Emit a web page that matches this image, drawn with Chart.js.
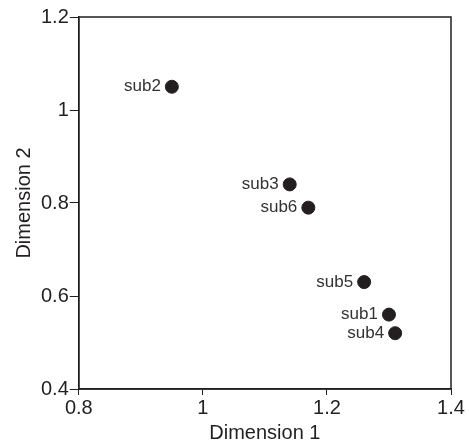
<!DOCTYPE html>
<html>
<head>
<meta charset="utf-8">
<script src="https://cdn.jsdelivr.net/npm/chart.js@4/dist/chart.umd.min.js"></script>
<style>
    html, body { margin: 0; padding: 0; background: #fff; }
    #wrap { width: 469px; height: 446px; }
</style>
</head>
<body>
<div id="wrap"><canvas id="chart-mds"></canvas></div>
<script>
// MDS coordinates of each subject
let subjects = ['sub1', 'sub2', 'sub3', 'sub4', 'sub5', 'sub6']
let dim1 = [1.30, 0.95, 1.14, 1.31, 1.26, 1.17]
let dim2 = [0.56, 1.05, 0.84, 0.52, 0.63, 0.79]

let xTicks = [0.8, 1, 1.2, 1.4]
let yTicks = [0.4, 0.6, 0.8, 1, 1.2]

let ink = '#231f20'
let font = '"Liberation Sans", Arial, Helvetica, sans-serif'

// names written to the left of each dot
let pointLabels = {
    id: 'pointLabels',
    afterDatasetsDraw(chart) {
        let ctx = chart.ctx
        let meta = chart.getDatasetMeta(0)
        ctx.save()
        ctx.font = '17px ' + font
        ctx.fillStyle = '#333'
        ctx.textAlign = 'right'
        ctx.textBaseline = 'middle'
        meta.data.forEach((pt, i) => {
            ctx.fillText(subjects[i], pt.x - 11, pt.y)
        })
        ctx.restore()
    }
}

// closed box around the plotting area
let frame = {
    id: 'frame',
    afterDraw(chart) {
        let a = chart.chartArea
        let ctx = chart.ctx
        ctx.save()
        ctx.strokeStyle = ink
        ctx.lineWidth = 1.5
        ctx.strokeRect(a.left, a.top, a.right - a.left, a.bottom - a.top)
        ctx.restore()
    }
}

let axisX = {
    type: 'linear',
    min: 0.8,
    max: 1.4,
    afterBuildTicks: (axis) => { axis.ticks = xTicks.map(v => ({ value: v })) },
    ticks: {
        color: ink,
        font: { family: font, size: 20 },
        padding: 1,
        maxRotation: 0,
        callback: (v) => String(v)
    },
    grid: { drawOnChartArea: false, drawTicks: true, tickLength: 6, color: ink, lineWidth: 1 },
    border: { display: true, color: ink, width: 1.5 },
    title: { display: true, text: 'Dimension 1', color: ink, font: { family: font, size: 20 }, padding: { top: 0, bottom: 0 } }
}

let axisY = {
    type: 'linear',
    min: 0.4,
    max: 1.2,
    afterBuildTicks: (axis) => { axis.ticks = yTicks.map(v => ({ value: v })) },
    ticks: {
        color: ink,
        font: { family: font, size: 20 },
        padding: 1,
        callback: (v) => String(v)
    },
    grid: { drawOnChartArea: false, drawTicks: true, tickLength: 9, color: ink, lineWidth: 1 },
    border: { display: true, color: ink, width: 1.5 },
    title: { display: true, text: 'Dimension 2', color: ink, font: { family: font, size: 20 }, padding: { top: 0, bottom: 4 } }
}

new Chart(document.getElementById('chart-mds'), {
    type: 'scatter',
    data: {
        datasets: [
            {
                label: 'subjects',
                data: dim1.map((x, i) => ({ x: x, y: dim2[i] })),
                backgroundColor: ink,
                borderColor: ink,
                pointRadius: 6.5,
                pointHoverRadius: 6.5
            }
        ]
    },
    options: {
        responsive: true,
        maintainAspectRatio: false,
        animation: false,
        layout: { padding: { top: 17, right: 18, left: 12, bottom: 1 } },
        scales: { x: axisX, y: axisY },
        plugins: {
            legend: { display: false },
            tooltip: { enabled: false }
        }
    },
    plugins: [pointLabels, frame]
})
</script>
</body>
</html>
